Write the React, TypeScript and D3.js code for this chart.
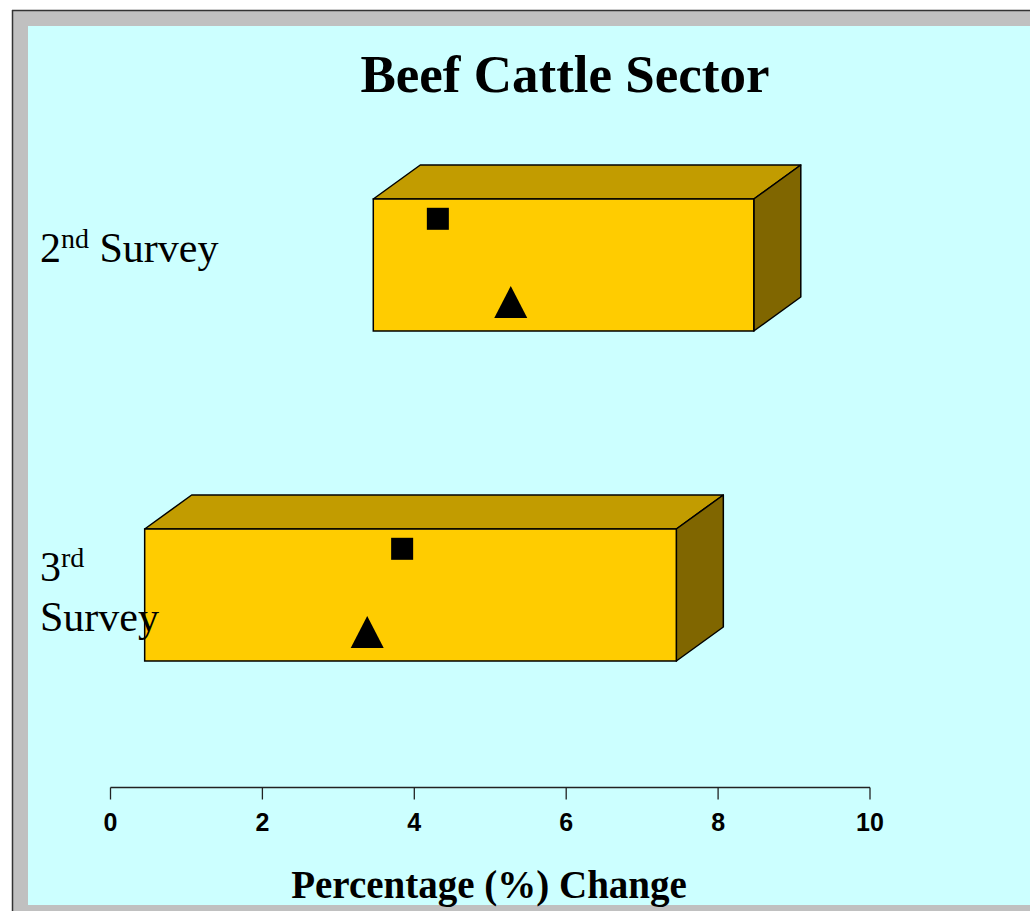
import React from "react";
import * as d3 from "d3";

const categories = ["2nd Survey", "3rd Survey"];
const rangeLow = [3.46, 0.45];
const rangeHigh = [8.47, 7.45];
const squareValues = [4.31, 3.84];
const triangleValues = [5.27, 3.38];
const xTicks = [0, 2, 4, 6, 8, 10];
const labelWrap = [false, true];

const W = 1030;
const H = 911;
const DX = 47;
const DY = -34;

export default function App() {
  const x = d3.scaleLinear().domain([0, 10]).range([110.5, 870]);
  const y = d3
    .scaleBand<string>()
    .domain(categories)
    .range([100, 760])
    .paddingInner(0.6)
    .paddingOuter(0.3);
  const bw = y.bandwidth();
  const sq = 22;
  const triW = 33;
  const triH = 32;

  const serif = "'Liberation Serif', 'Times New Roman', serif";
  const sans = "'Liberation Sans', Arial, sans-serif";
  const axisY = 787.5;

  return (
    <div style={{ position: "absolute", left: 0, top: 0 }}>
      <svg width={W} height={H} style={{ display: "block" }}>
        <rect x={0} y={0} width={W} height={H} fill="#ffffff" />
        <rect x={12} y={10} width={W - 12} height={H - 10} fill="#c0c0c0" />
        <line x1={12.5} y1={10} x2={12.5} y2={H} stroke="#333" strokeWidth={1.5} />
        <line x1={12} y1={10.5} x2={W} y2={10.5} stroke="#333" strokeWidth={1.5} />
        <rect x={28} y={26} width={W - 28} height={905 - 26} fill="#ccffff" />

        <text
          x={565}
          y={92}
          textAnchor="middle"
          fontFamily={serif}
          fontWeight="bold"
          fontSize={53}
          fill="#000"
        >
          Beef Cattle Sector
        </text>

        {categories.map((c, i) => {
          const top = y(c)!;
          const bottom = top + bw;
          const x0 = x(rangeLow[i]);
          const x1 = x(rangeHigh[i]);
          const topFace = `M${x0},${top}L${x0 + DX},${top + DY}L${x1 + DX},${top + DY}L${x1},${top}Z`;
          const sideFace = `M${x1},${top}L${x1 + DX},${top + DY}L${x1 + DX},${bottom + DY}L${x1},${bottom}Z`;
          const sx = x(squareValues[i]);
          const tx = x(triangleValues[i]);
          const sqCy = top + bw * 0.15;
          const triBase = bottom - 13;
          return (
            <g key={c}>
              <path d={topFace} fill="#c29c00" stroke="#000" strokeWidth={1.5} strokeLinejoin="round" />
              <path d={sideFace} fill="#806600" stroke="#000" strokeWidth={1.5} strokeLinejoin="round" />
              <rect x={x0} y={top} width={x1 - x0} height={bw} fill="#ffcc00" stroke="#000" strokeWidth={1.5} />
              <rect x={sx - sq / 2} y={sqCy - sq / 2} width={sq} height={sq} fill="#000" />
              <path
                d={`M${tx},${triBase - triH}L${tx + triW / 2},${triBase}L${tx - triW / 2},${triBase}Z`}
                fill="#000"
              />
            </g>
          );
        })}

        {categories.map((c, i) => {
          const m = c.match(/^(\d+)(st|nd|rd|th) (.*)$/)!;
          const center = y(c)! + bw / 2;
          const wrap = labelWrap[i];
          const n = wrap ? 2 : 1;
          const base = center - 3 - (n - 1) * 11;
          return (
            <g key={"l" + c} fontFamily={serif} fill="#000">
              <text x={40} y={base} fontSize={42}>
                {m[1]}
                <tspan fontSize={28} dy={-14}>
                  {m[2]}
                </tspan>
                {!wrap && <tspan dy={14}>{" " + m[3]}</tspan>}
              </text>
              {wrap && (
                <text x={40} y={base + 50} fontSize={42}>
                  {m[3]}
                </text>
              )}
            </g>
          );
        })}

        <g>
          <line x1={x(0)} y1={axisY} x2={x(10)} y2={axisY} stroke="#222" strokeWidth={1.3} />
          {xTicks.map((t) => (
            <g key={t}>
              <line x1={x(t)} y1={axisY} x2={x(t)} y2={axisY + 12} stroke="#222" strokeWidth={1.3} />
              <text
                x={x(t)}
                y={831}
                textAnchor="middle"
                fontFamily={sans}
                fontWeight="bold"
                fontSize={25}
                fill="#000"
              >
                {t}
              </text>
            </g>
          ))}
        </g>

        <text
          x={489}
          y={898}
          textAnchor="middle"
          fontFamily={serif}
          fontWeight="bold"
          fontSize={39}
          fill="#000"
        >
          Percentage (%) Change
        </text>
      </svg>
    </div>
  );
}
